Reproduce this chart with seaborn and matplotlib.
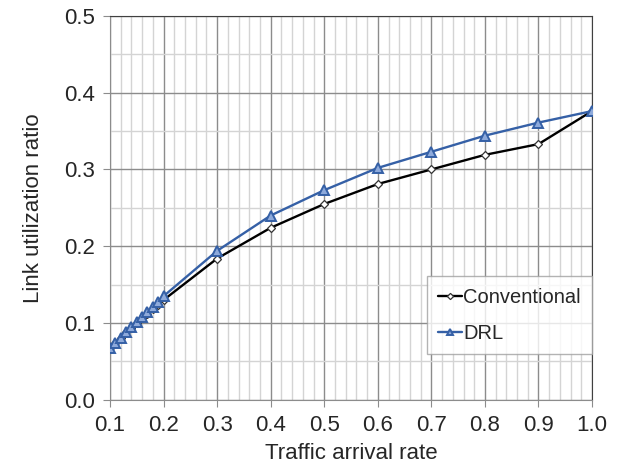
import numpy as np
import pandas as pd
import seaborn as sns
import matplotlib.pyplot as plt
from matplotlib.ticker import MultipleLocator

# data
rate = [0.10, 0.11, 0.12, 0.13, 0.14, 0.15, 0.16, 0.17, 0.18, 0.19, 0.20,
        0.3, 0.4, 0.5, 0.6, 0.7, 0.8, 0.9, 1.0]
conventional = [0.067, 0.074, 0.081, 0.088, 0.094, 0.100, 0.106, 0.112, 0.118, 0.124, 0.130,
                0.184, 0.224, 0.255, 0.281, 0.300, 0.319, 0.333, 0.376]
drl = [0.067, 0.074, 0.081, 0.088, 0.095, 0.101, 0.108, 0.115, 0.121, 0.128, 0.135,
       0.194, 0.240, 0.273, 0.302, 0.323, 0.344, 0.361, 0.376]

df = pd.DataFrame({"rate": rate + rate,
                   "util": conventional + drl,
                   "method": ["Conventional"] * len(rate) + ["DRL"] * len(rate)})

sns.set_style("white")
plt.rcParams['font.family'] = ['Liberation Sans', 'DejaVu Sans']

fig = plt.figure(figsize=(6.18, 4.66), dpi=100)
ax = fig.add_axes([0.178, 0.142, 0.780, 0.824])

blue = '#3560a6'
sub = df[df.method == "Conventional"]
sns.lineplot(data=sub, x="rate", y="util", ax=ax, color='black', linewidth=1.7,
             marker='D', markersize=4.5, markerfacecolor='white', markeredgecolor='#333333',
             markeredgewidth=0.9, label="Conventional", zorder=3)
sub = df[df.method == "DRL"]
sns.lineplot(data=sub, x="rate", y="util", ax=ax, color=blue, linewidth=1.7,
             marker='^', markersize=6.5, markerfacecolor='#8eaadb', markeredgecolor=blue,
             markeredgewidth=1.4, label="DRL", zorder=4)

ax.set_xlim(0.1, 1.0)
ax.set_ylim(0.0, 0.5)
ax.xaxis.set_major_locator(MultipleLocator(0.1))
ax.xaxis.set_minor_locator(MultipleLocator(0.02))
ax.yaxis.set_major_locator(MultipleLocator(0.1))
ax.yaxis.set_minor_locator(MultipleLocator(0.05))
ax.xaxis.set_major_formatter(plt.FormatStrFormatter('%.1f'))
ax.yaxis.set_major_formatter(plt.FormatStrFormatter('%.1f'))
ax.grid(which='major', color='#8c8c8c', linewidth=1)
ax.grid(which='minor', color='#d4d4d4', linewidth=1)
ax.set_axisbelow(True)
ax.tick_params(which='major', length=5, color='#8c8c8c', labelsize=16, pad=6, direction='out',
               bottom=True, left=True)
ax.tick_params(which='minor', length=0)
for s in ['left', 'bottom']:
    ax.spines[s].set_color('#8c8c8c')
for s in ['top', 'right']:
    ax.spines[s].set_color('#404040')
ax.set_xlabel("Traffic arrival rate", fontsize=16, labelpad=5)
ax.set_ylabel("Link utilization ratio", fontsize=16, labelpad=14)

leg = ax.legend(loc='lower right', bbox_to_anchor=(1.0, 0.12), fontsize=14.5, frameon=True,
                fancybox=False, edgecolor='#a0a0a0', handlelength=1.2, handletextpad=0.05,
                labelspacing=0.85, borderpad=0.55, borderaxespad=0, markerscale=0.7)
leg.get_frame().set_linewidth(1)

fig.savefig("out.png", dpi=100)
